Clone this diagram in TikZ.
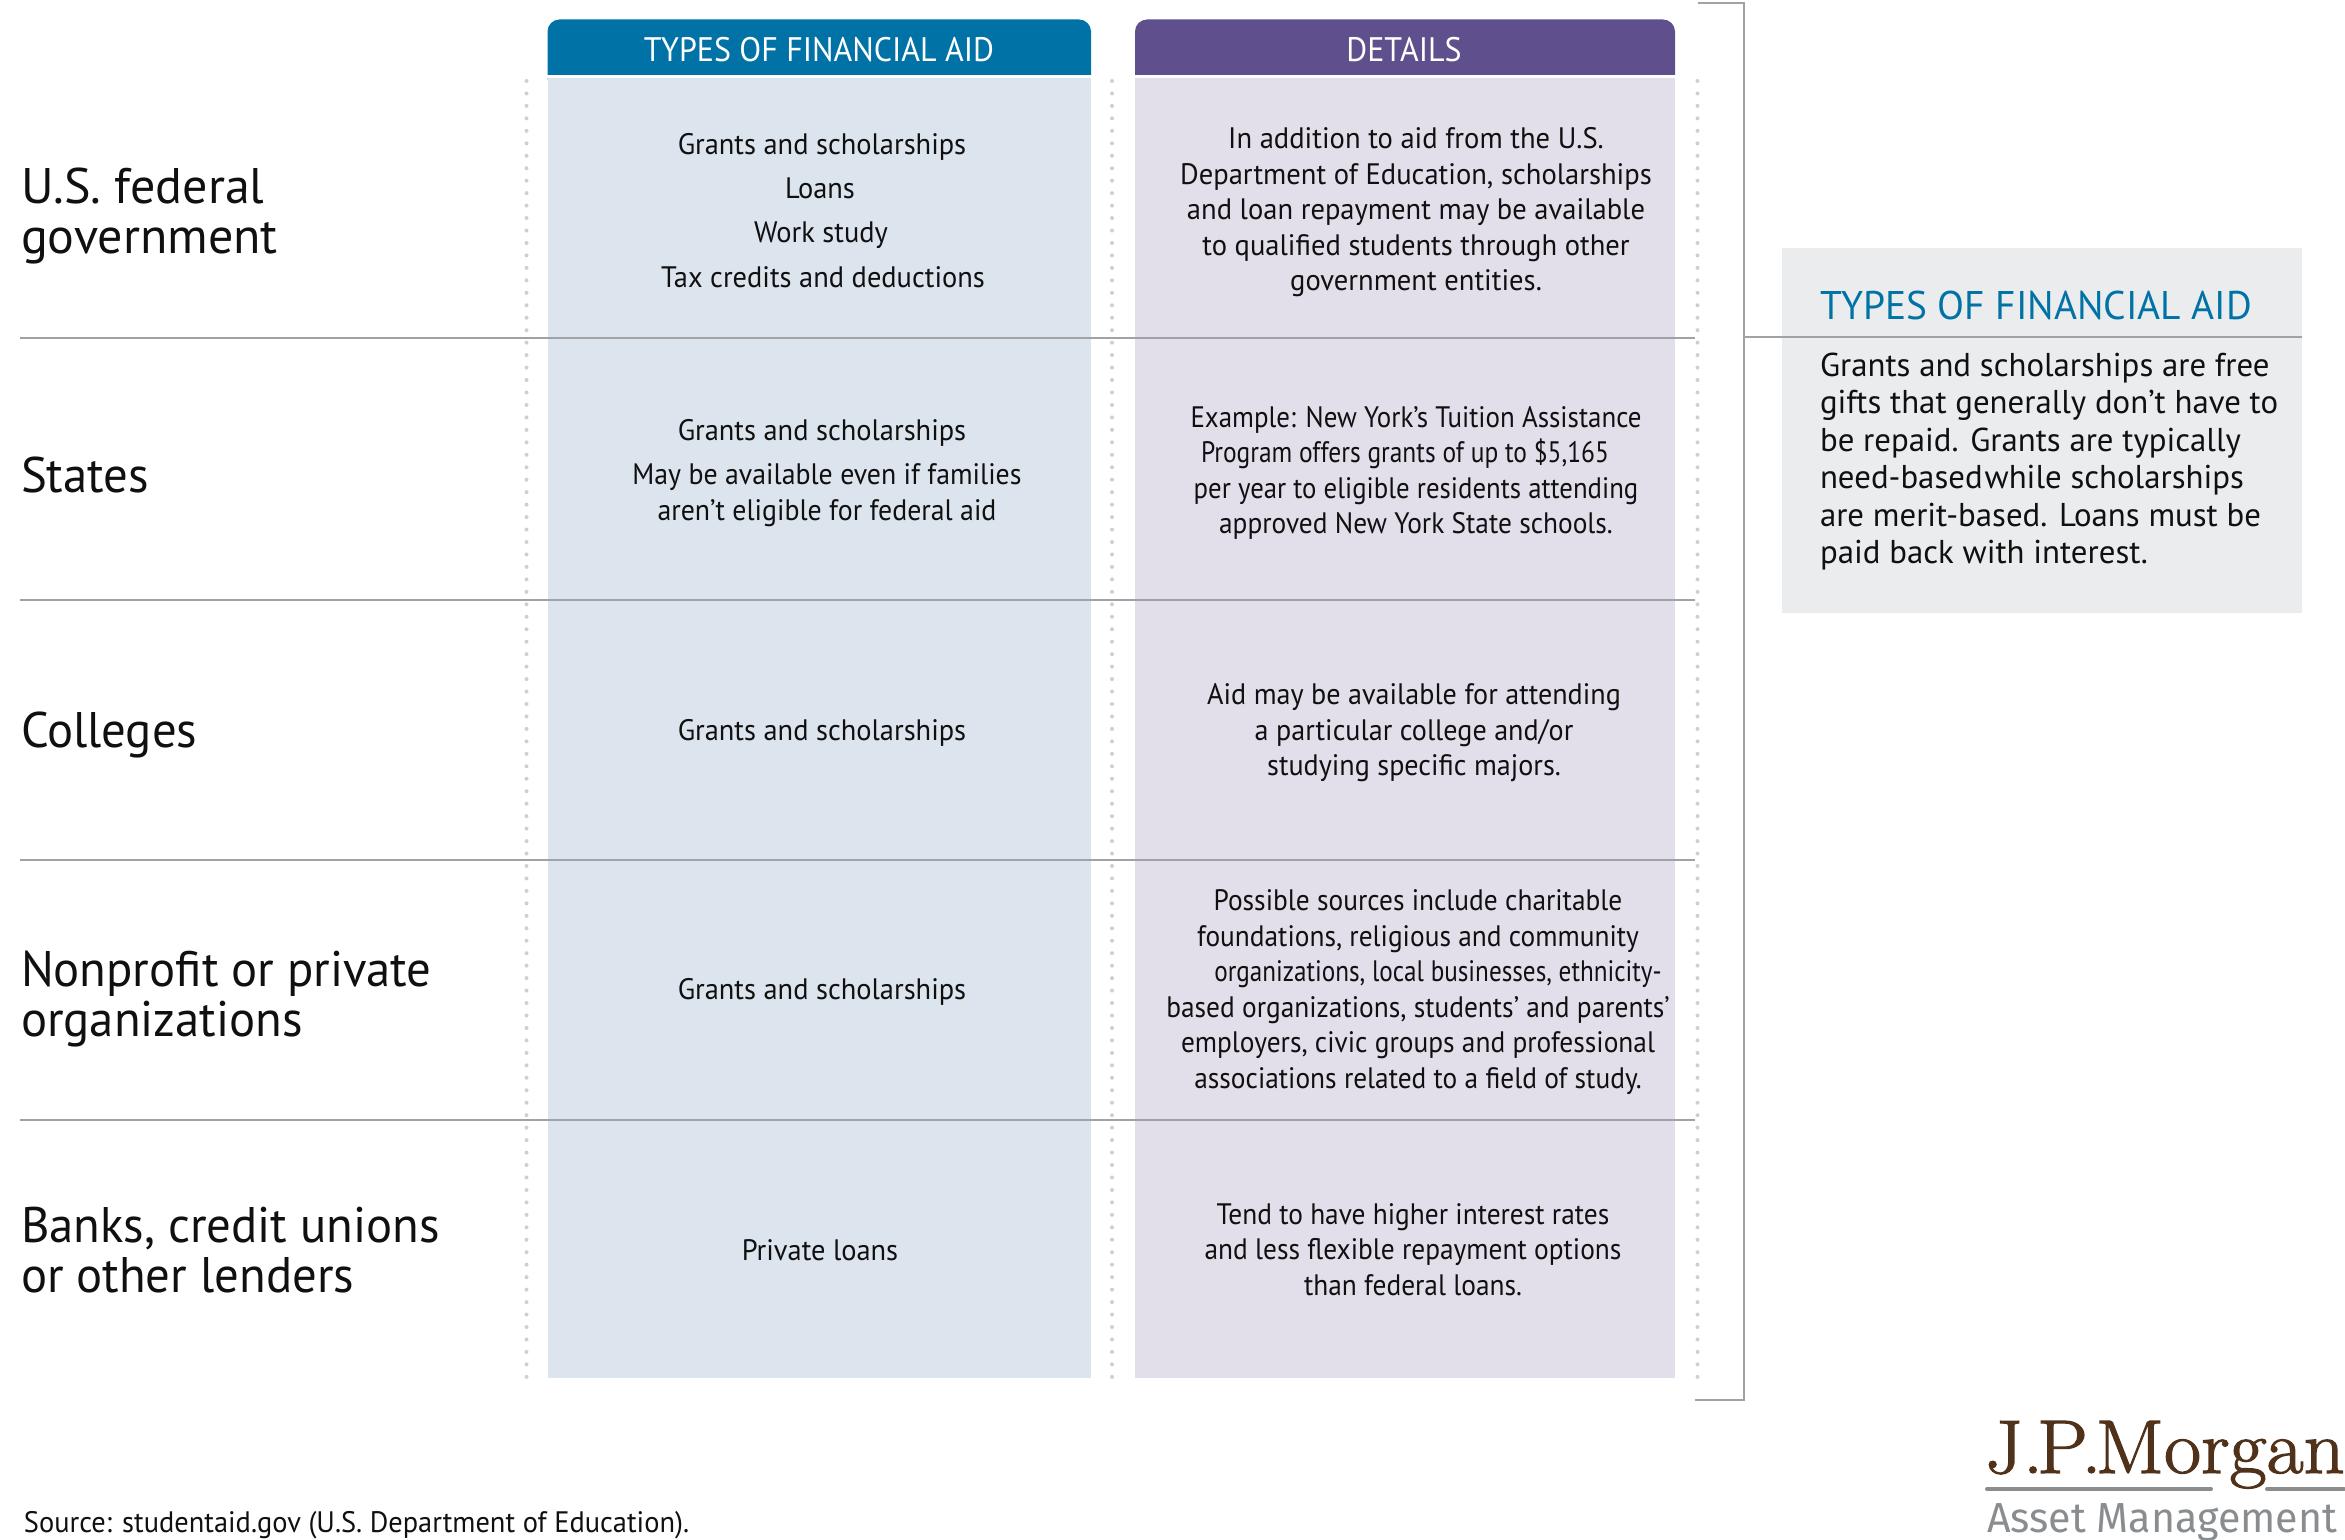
\documentclass[tikz,border=0pt]{standalone}
\usepackage{fontspec}
\newfontfamily\bodyfont{PT Sans}
\newfontfamily\assetfont[FakeStretch=0.98]{Fira Sans}
\newfontfamily\logofont[FakeBold=1.6,FakeStretch=1.06]{Latin Modern Roman}
\definecolor{inkc}{HTML}{101010}
\definecolor{bluehead}{HTML}{0072A6}
\definecolor{purplehead}{HTML}{5F4F8C}
\definecolor{bluebody}{HTML}{DCE4EE}
\definecolor{purplebody}{HTML}{E2DFEB}
\definecolor{sidebox}{HTML}{EBECEE}
\definecolor{rulec}{HTML}{A0A2A5}
\definecolor{dotc}{HTML}{CFCFD2}
\definecolor{logobrown}{HTML}{50321A}
\definecolor{logogrey}{HTML}{8A8D90}
\newcommand{\fpx}[2]{\fontsize{#1pt}{#2pt}\selectfont}
\newcommand{\st}[2]{{\addfontfeature{FakeStretch=#1}#2}}
\tikzset{
  x=0.5pt,y=-0.5pt,
  every node/.style={inner sep=0pt,outer sep=0pt,text=inkc,font=\bodyfont},
  rowlabel/.style={anchor=west,align=left,font=\bodyfont\fpx{25}{25}\addfontfeature{FakeStretch=#1}},
  rowlabel/.default=0.975,
  typetext/.style={anchor=base,font=\bodyfont\fpx{14.8}{17.75}\addfontfeature{FakeStretch=0.96}},
  typeblock/.style={anchor=center,align=center,font=\bodyfont\fpx{14.8}{17.75}\addfontfeature{FakeStretch=0.94}},
  detail/.style={anchor=center,align=center,font=\bodyfont\fpx{14.8}{17.75}\addfontfeature{FakeStretch=#1}},
  detail/.default=0.94,
  headtext/.style={anchor=base,text=white,font=\bodyfont\fpx{17}{18}\addfontfeature{FakeStretch=0.94}},
  hrule/.style={draw=rulec,line width=1pt},
  bracket/.style={draw=rulec,line width=1pt},
  dotline/.style={draw=dotc,line width=2pt,line cap=round,dash pattern=on 0pt off 6.23pt},
  logobar/.style={draw=logogrey,line width=2pt,line cap=round},
}
\begin{document}
\begin{tikzpicture}
\useasboundingbox (0,0) rectangle (2345,1540);
% column headers
\fill[bluehead,rounded corners=6pt] (547.5,19.5) rectangle (1091,90);
\fill[purplehead,rounded corners=6pt] (1135,19.5) rectangle (1675,90);
\fill[white] (540,75) rectangle (1680,78);
% column bodies
\fill[bluebody] (547.5,78) rectangle (1091,1378);
\fill[purplebody] (1135,78) rectangle (1675,1378);
\node[headtext] (h1) at (819,61.5) {TYPES OF FINANCIAL AID};
\node[headtext] (h2) at (1404,61.5) {DETAILS};
% dotted lines
\draw[dotline] (526.5,81) -- (526.5,1377);
\draw[dotline] (1112,81) -- (1112,1377);
\draw[dotline] (1697.5,81) -- (1697.5,1377);
% rules
\draw[hrule] (20,338) -- (1695,338);
\draw[hrule] (20,599.5) -- (1695,599.5);
\draw[hrule] (20,860) -- (1695,860);
\draw[hrule] (20,1120) -- (1695,1120);
% bracket
\draw[bracket] (1698,3) -- (1743.5,3) -- (1743.5,1400) -- (1695,1400);
% side box
\fill[sidebox] (1782,248) rectangle (2301.5,612.5);
\draw[hrule] (1743.5,337) -- (2301.5,337);
\node[anchor=base west,text=bluehead,font=\bodyfont\fpx{20}{20}\addfontfeature{FakeStretch=0.985}] (sidetitle) at (1820,320) {TYPES OF FINANCIAL AID};
\node[anchor=north west,align=left,font=\bodyfont\fpx{16.5}{18.7}\addfontfeature{FakeStretch=0.995}] (sidetext) at (1820,353) {Grants and scholarships are free\\gifts that generally don’t have to\\be repaid. Grants are typically\\need-based\hspace{1pt}while scholarships\\are merit-based. Loans must be\\paid back with interest.};
% row labels
\node[rowlabel=1.0] (r1) at (21,216.5) {U.S. federal\\government};
\node[rowlabel] (r2) at (21,475) {States};
\node[rowlabel] (r3) at (21,735) {Colleges};
\node[rowlabel] (r4) at (21,999) {Nonprofit or private\\organizations};
\node[rowlabel] (r5) at (21,1250.5) {Banks, credit unions\\or other lenders};
% types
\node[typetext] (t1a) at (822,154.5) {Grants and scholarships};
\node[typetext] (t1b) at (820,198.5) {Loans};
\node[typetext] (t1c) at (821,243) {Work study};
\node[typetext] (t1d) at (823,287.5) {Tax credits and deductions};
\node[typetext] (t2a) at (822,441) {Grants and scholarships};
\node[typeblock] (t2b) at (827,495) {May be available even if families\\aren’t eligible for federal aid};
\node[typetext] (t3) at (822,740) {Grants and scholarships};
\node[typetext] (t4) at (822,999) {Grants and scholarships};
\node[typetext] (t5) at (820,1260) {Private loans};
% details
\node[detail=0.965] (d1) at (1416,212.5) {In addition to aid from the U.S.\\Department of Education, scholarships\\and loan repayment may be available\\to qualified students through other\\government entities.};
\node[detail] (d2) at (1416,473) {\st{0.91}{Example: New York’s Tuition Assistance}\\\hspace*{-11pt}\st{0.86}{Program offers grants of up to \$5,165}\\\st{0.905}{per year to eligible residents attending}\\\st{0.925}{approved New York State schools.}};
\node[detail=0.95] (d3) at (1414,733) {Aid may be available for attending\\a particular college and/or\\studying specific majors.};
\node[detail=0.925] (d4) at (1418,992) {Possible sources include charitable\\foundations, religious and community\\\hspace*{20pt}\st{0.85}{organizations, local businesses, ethnicity-}\\based organizations, students’ and parents’\\employers, civic groups and professional\\associations related to a field of study.};
\node[detail=0.925] (d5) at (1413,1249.5) {Tend to have higher interest rates\\and less flexible repayment options\\than federal loans.};
% source
\node[anchor=base west,font=\bodyfont\fpx{14.8}{17}\addfontfeature{FakeStretch=0.96}] (src) at (24,1532) {Source: studentaid.gov (U.S. Department of Education).};
% logo
\node[anchor=base west,text=logobrown,font=\logofont\fpx{38}{38}] (logo) at (1985,1473) {J.\kern-3pt P.\kern-3pt Morgan};
\draw[logobar] (1987,1489) -- (2211,1489);
\draw[logobar] (2267,1489) -- (2344,1489);
\node[anchor=base west,text=logogrey,font=\assetfont\fpx{21}{21}] (asset) at (1987,1532) {Asset Management};
\end{tikzpicture}
\end{document}
